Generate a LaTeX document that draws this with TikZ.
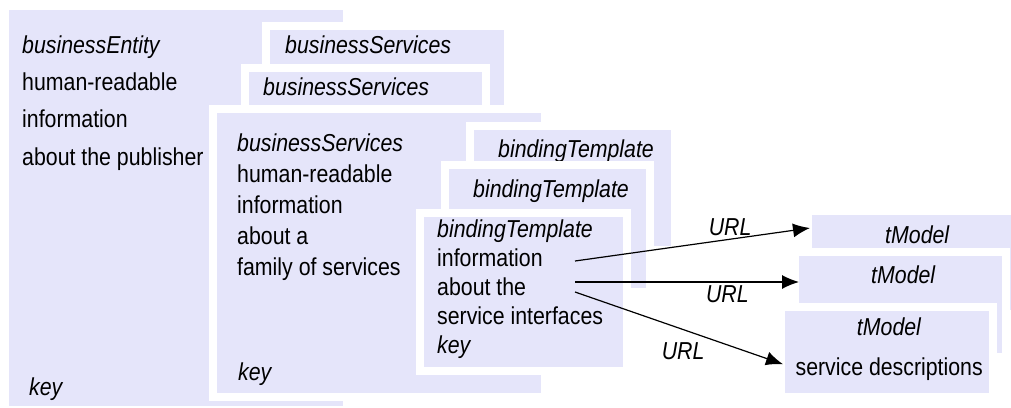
\documentclass[tikz,border=0pt]{standalone}
\usepackage{fontspec}
\setmainfont{Liberation Sans}[FakeStretch=0.87]
\usepackage{xcolor}
\usetikzlibrary{positioning,arrows.meta}
\definecolor{lav}{RGB}{229,229,250}

\begin{document}
\begin{tikzpicture}[
    x=1pt,y=-1pt,
    box/.style={
      fill=lav,
      preaction={draw=white,line width=16pt},
      anchor=north west,
      inner sep=0pt
    },
    txt/.style={
      anchor=base west,
      inner sep=0pt,
      align=left,
      font=\fontsize{24.5}{31}\selectfont
    },
    ital/.style={
      txt,
      font=\fontsize{24.5}{31}\selectfont\itshape
    },
    lbl/.style={
      font=\fontsize{24.5}{29}\selectfont\itshape
    },
    url/.style={
      -{Latex[length=17pt,width=14pt]},
      line width=1.2pt
    }
    ]
    \useasboundingbox (0,0) rectangle (1011,407);
    % businessEntity
    \node[box,minimum width=334pt,minimum height=396pt] (ent) at (9,10) {};
    \node[txt,font=\fontsize{24.5}{37.3}\selectfont] (enttxt) 
      at ([shift={(13,155)}]ent.north west)
      {\textit{businessEntity}\\human-readable\\information\\about the publisher};
    \node[ital] (entkey) at ([shift={(20,-11)}]ent.south west) {key};
    % businessServices
    \node[box,minimum width=234pt,minimum height=80pt] (bsA) at (270,30) {};
    \node[ital] (bsAtxt) at ([shift={(15,23)}]bsA.north west) {businessServices};
    \node[box,minimum width=233pt,minimum height=41pt] (bsB) at (249,72) {};
    \node[ital] (bsBtxt) at ([shift={(14,23)}]bsB.north west) {businessServices};
    \node[box,minimum width=324pt,minimum height=280pt] (bsC) at (217,113) {};
    \node[txt] (bsCtxt) at ([shift={(20,162)}]bsC.north west)
      {\textit{businessServices}\\human-readable\\information\\about a\\family of services};
    \node[ital] (bsCkey) at ([shift={(21,-13)}]bsC.south west) {key};
    % bindingTemplate
    \node[box,minimum width=197pt,minimum height=116pt] (btA) at (474,130) {};
    \node[ital] (btAtxt) at ([shift={(24,27)}]btA.north west) {bindingTemplate};
    \node[box,minimum width=197pt,minimum height=119pt] (btB) at (449,169) {};
    \node[ital] (btBtxt) at ([shift={(24,28)}]btB.north west) {bindingTemplate};
    \node[box,minimum width=199pt,minimum height=150pt] (btC) at (424,217) {};
    \node[txt,font=\fontsize{24.5}{29}\selectfont] (btCtxt) 
      at ([shift={(13,136)}]btC.north west)
      {\textit{bindingTemplate}\\information\\about the\\service interfaces\\\textit{key}};
    % tModel
    \node[box,minimum width=199pt,minimum height=95pt] (tmA) at (812,215) {};
    \node[ital,anchor=base] (tmAtxt) at ([shift={(5.5,28)}]tmA.north) {tModel};
    \node[box,minimum width=203pt,minimum height=97pt] (tmB) at (799,256) {};
    \node[ital,anchor=base] (tmBtxt) at ([shift={(2.5,27)}]tmB.north) {tModel};
    \node[box,minimum width=204pt,minimum height=82pt] (tmC) at (785,311) {};
    \node[txt,anchor=base,align=center,font=\fontsize{24.5}{40}\selectfont] (tmCtxt) 
      at ([shift={(2,64)}]tmC.north)
      {\textit{tModel}\\service descriptions};
    % URL arrows
    \coordinate (u1) at (575,261);
    \coordinate (u2) at (575,282);
    \coordinate (u3) at (575,292);
    \draw[url] (u1) -- node[pos=.66,above,lbl] {URL} ([shift={(-2,13)}]tmA.north west);
    \draw[url] (u2) -- node[pos=.68,below,lbl] {URL} (u2 -| tmB.west);
    \draw[url] (u3) -- node[pos=.52,below=9pt,lbl] {URL} ([shift={(-2,12)}]tmC.west);
\end{tikzpicture}
\end{document}
